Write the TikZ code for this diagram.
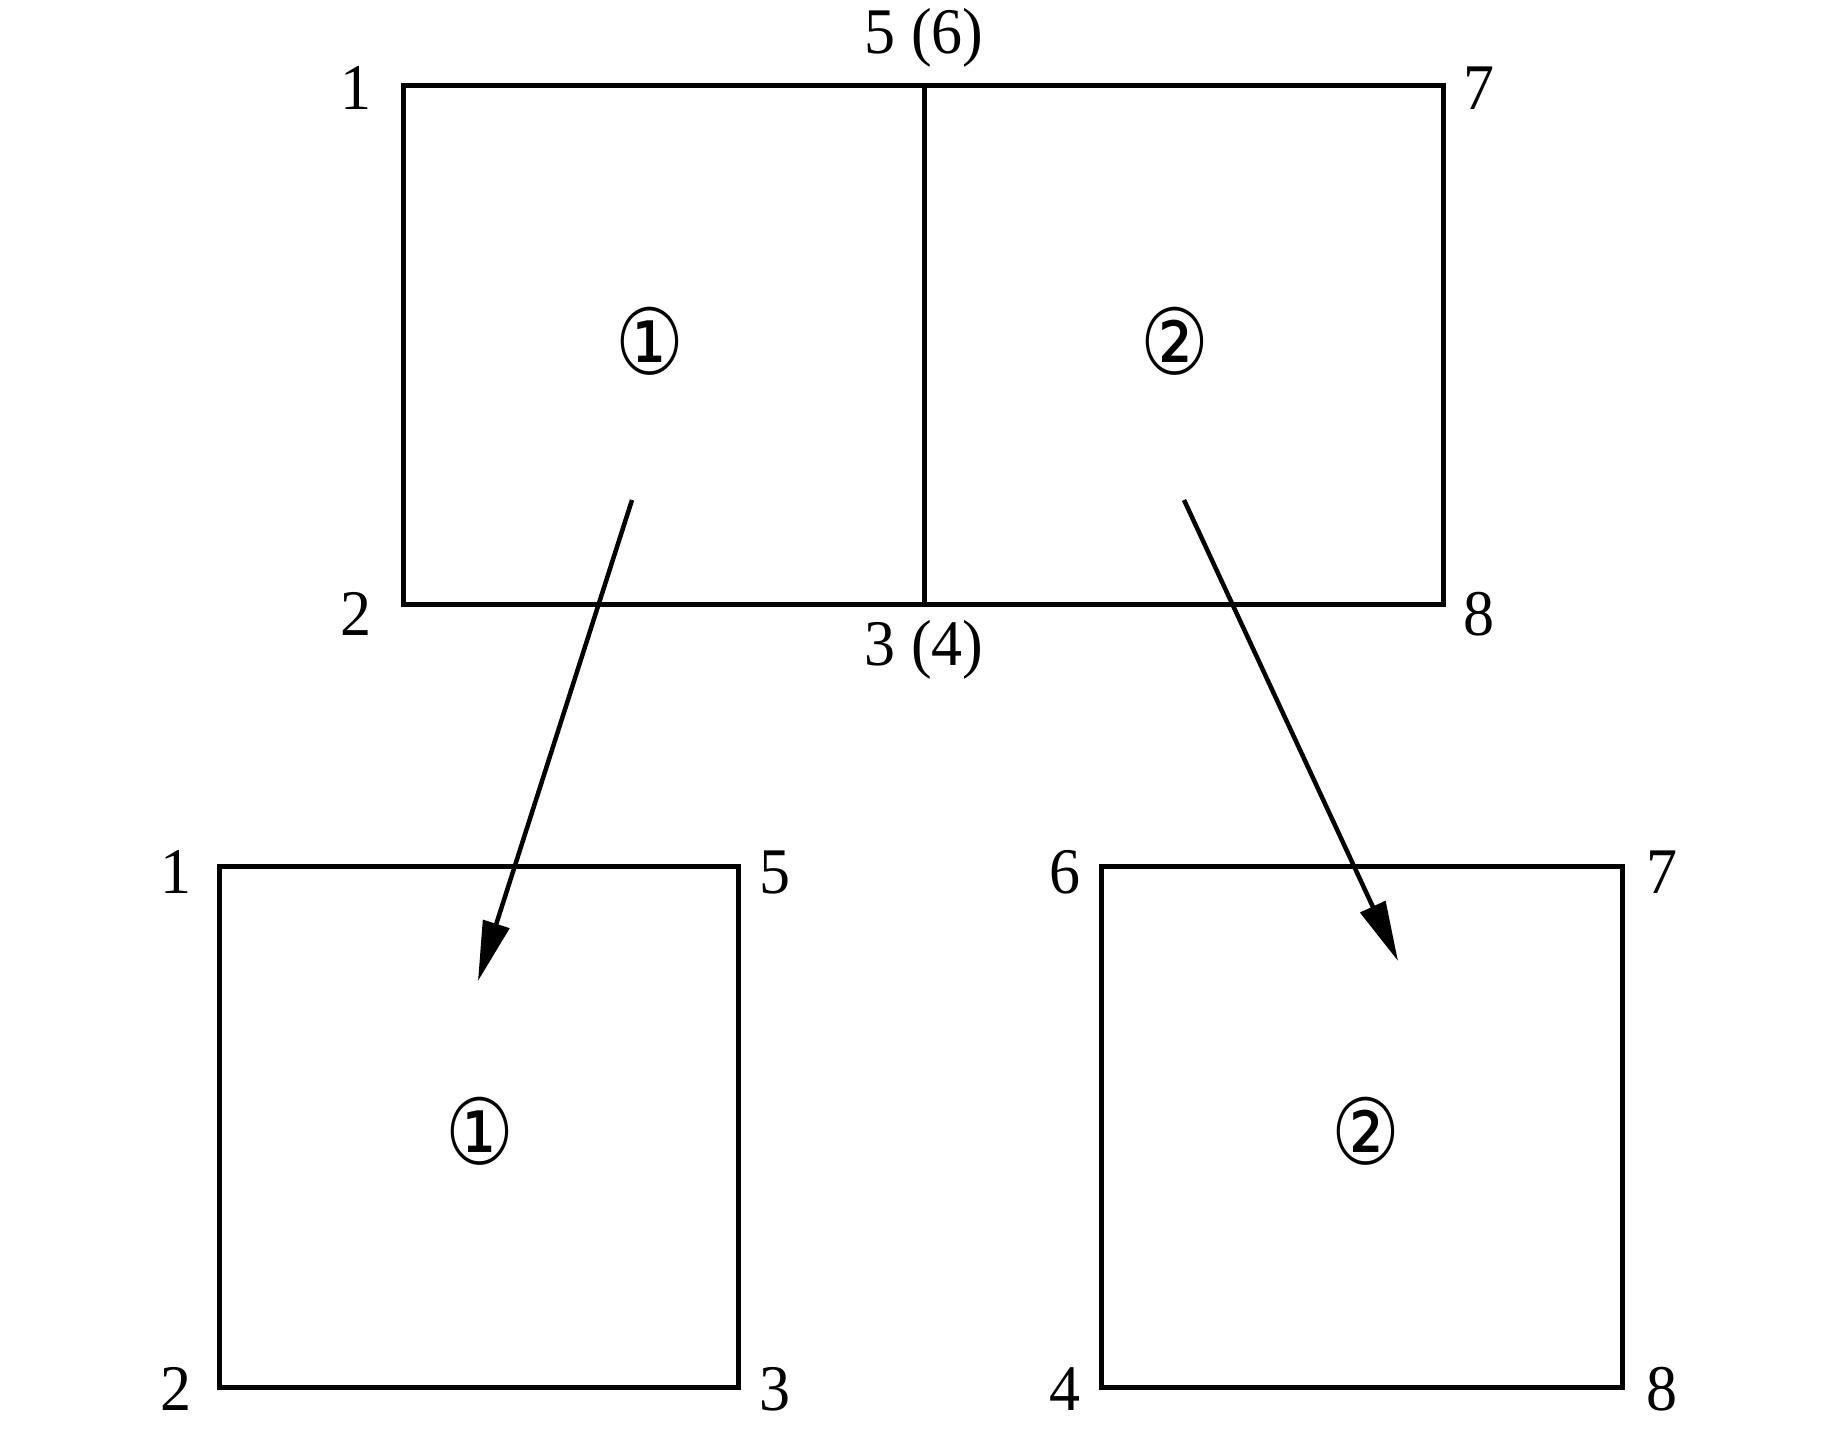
\documentclass[tikz,border=0pt]{standalone}
\usepackage{fontspec}
\setmainfont{Liberation Serif}
\newfontfamily\circfont{DejaVu Sans}
\usetikzlibrary{arrows.meta}
\begin{document}
\begin{tikzpicture}[x=1pt,y=-1pt,
  frame/.style={line width=5pt,line join=miter},
  lbl/.style={font=\fontsize{62}{68}\selectfont,inner sep=0pt,yscale=1.05},
  circ/.style={font=\fontsize{96}{100}\selectfont\circfont,inner sep=0pt,xscale=0.8,yscale=0.95},
  arr/.style={line width=4.5pt,-{Triangle[length=60pt,width=27pt]}}]
\fill[white] (0,0) rectangle (1843,1428);
\useasboundingbox (0,0) rectangle (1843,1428);
% top rectangle
\draw[frame] (403,85) rectangle (1443,604);
\draw[frame] (924,85) -- (924,604);
\node[lbl] (t1) at (356,88) {1};
\node[lbl] (t2) at (356,614) {2};
\node[lbl] (t7) at (1479,88) {7};
\node[lbl] (t8) at (1479,614) {8};
\node[lbl] (t56) at (924,38) {5 (6)};
\node[lbl] (t34) at (924,650) {3 (4)};
\node[circ] (c1) at (650,341) {①};
\node[circ] (c2) at (1175,341) {②};
% bottom left
\draw[frame] (219,866) rectangle (738,1387);
\node[lbl] (a1) at (176,872) {1};
\node[lbl] (a5) at (775,872) {5};
\node[lbl] (a2) at (176,1389) {2};
\node[lbl] (a3) at (775,1389) {3};
\node[circ] (c3) at (480,1131) {①};
% bottom right
\draw[frame] (1101,866) rectangle (1622,1387);
\node[lbl] (b6) at (1065,872) {6};
\node[lbl] (b7) at (1662,872) {7};
\node[lbl] (b4) at (1065,1389) {4};
\node[lbl] (b8) at (1662,1389) {8};
\node[circ] (c4) at (1366,1131) {②};
% arrows
\coordinate (s1) at (632,500);
\coordinate (e1) at (478,981);
\coordinate (s2) at (1184,500);
\coordinate (e2) at (1398,961);
\draw[arr] (s1) -- (e1);
\draw[arr] (s2) -- (e2);
\end{tikzpicture}
\end{document}
